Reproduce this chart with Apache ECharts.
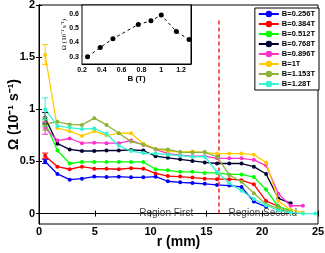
<!DOCTYPE html>
<html><head><meta charset="utf-8">
<script src="https://cdn.jsdelivr.net/npm/echarts@6/dist/echarts.min.js"></script>
<style>html,body{margin:0;padding:0;background:#fff}#c{width:325px;height:253px}</style>
</head><body><div id="c"></div>
<script>
// radial positions (mm)
const radius = [0.55,1.65,2.75,3.85,4.95,6.05,7.15,8.25,9.35,10.45,11.55,12.65,13.75,14.85,15.95,17.05,18.15,19.25,20.35,21.45,22.55,23.65,24.75];
const seriesNames = ['B=0.256T','B=0.384T','B=0.512T','B=0.768T','B=0.896T','B=1T','B=1.153T','B=1.28T'];
const seriesColors = ['#0000ff','#ff0000','#00ff00','#000033','#ff33cc','#ffcc00','#8db33a','#33f5d0'];
const omega0256 = [0.50,0.38,0.325,0.335,0.355,0.35,0.354,0.348,0.348,0.354,0.31,0.30,0.293,0.285,0.275,0.268,0.255,0.115,0.065];
const omega0384 = [0.555,0.45,0.425,0.45,0.43,0.43,0.425,0.435,0.43,0.385,0.36,0.355,0.345,0.335,0.33,0.33,0.32,0.28,0.12,0.07];
const omega0512 = [0.87,0.605,0.48,0.495,0.495,0.495,0.495,0.495,0.495,0.425,0.415,0.40,0.40,0.39,0.39,0.375,0.375,0.35,0.23,0.065,0.03];
const omega0768 = [0.92,0.67,0.615,0.60,0.60,0.605,0.605,0.61,0.605,0.55,0.535,0.52,0.505,0.49,0.48,0.48,0.48,0.45,0.38,0.145,0.10];
const omega0896 = [0.82,0.70,0.72,0.675,0.68,0.675,0.675,0.70,0.66,0.615,0.575,0.56,0.55,0.55,0.53,0.53,0.53,0.515,0.46,0.19,0.075,0.075];
const omega1000 = [1.52,0.82,0.79,0.745,0.79,0.75,0.77,0.77,0.67,0.62,0.60,0.59,0.595,0.585,0.575,0.575,0.575,0.565,0.49,0.12,0.035,0.01];
const omega1153 = [0.86,0.88,0.855,0.85,0.915,0.85,0.77,0.69,0.66,0.62,0.615,0.59,0.585,0.59,0.545,0.37,0.305,0.195,0.09,0.05,0.02];
const omega1280 = [1.00,0.84,0.825,0.81,0.815,0.765,0.65,0.60,0.58,0.575,0.565,0.555,0.545,0.545,0.40,0.29,0.22,0.14,0.08,0.03,0.01,0.0,0.0];
const allOmega = [omega0256,omega0384,omega0512,omega0768,omega0896,omega1000,omega1153,omega1280];
// error bars at first radius: [low, high]
const errLow  = [0.48,0.53,0.84,0.86,0.76,1.43,0.80,0.90];
const errHigh = [0.52,0.58,0.90,0.97,0.88,1.62,0.92,1.11];
// inset data
const insetB = [0.256,0.384,0.512,0.768,0.896,1,1.153,1.28];
const insetOmega = [0.30,0.365,0.425,0.525,0.55,0.59,0.475,0.42];
const mainYTicks = [0,0.5,1,1.5,2];
const insetYTicks = [0.3,0.4,0.5,0.6];
const regionLineR = 16.1;
const regionLineTop = 1.875;
const regionLabels = [['Region First',11.4,0],['Region Second',20.05,0]];

const chart = echarts.init(document.getElementById('c'), null, {renderer:'canvas'});
const bold = {fontFamily:'Liberation Sans, Arial, sans-serif', fontWeight:'bold', color:'#000'};

const lineSeries = allOmega.map((vals,i)=>({
  type:'line', name:seriesNames[i], xAxisIndex:0, yAxisIndex:0,
  data: vals.map((v,j)=>[radius[j],v]),
  symbol:'circle', symbolSize:4, showSymbol:true,
  lineStyle:{color:seriesColors[i], width:1.3},
  itemStyle:{color:seriesColors[i]},
  z:3+i, animation:false
}));

const errData = errLow.map((lo,i)=>[radius[0], lo, errHigh[i], i]);
const errSeries = {
  type:'custom', xAxisIndex:0, yAxisIndex:0, z:20,
  data: errData,
  renderItem:(params, api)=>{
    const x = api.value(0), lo = api.value(1), hi = api.value(2), ci = api.value(3);
    const p1 = api.coord([x, lo]), p2 = api.coord([x, hi]);
    const c = seriesColors[ci], w = 3;
    const st = {stroke:c, lineWidth:1};
    return {type:'group', children:[
      {type:'line', shape:{x1:p1[0],y1:p1[1],x2:p2[0],y2:p2[1]}, style:st},
      {type:'line', shape:{x1:p1[0]-w,y1:p1[1],x2:p1[0]+w,y2:p1[1]}, style:st},
      {type:'line', shape:{x1:p2[0]-w,y1:p2[1],x2:p2[0]+w,y2:p2[1]}, style:st}
    ]};
  },
  markLine:{
    silent:true, symbol:['none','none'], animation:false,
    lineStyle:{color:'#ff2020', type:[4,3], width:1.5},
    label:{show:false},
    data:[[{coord:[regionLineR,0]},{coord:[regionLineR,regionLineTop]}]]
  },
  markPoint:{
    silent:true, symbol:'circle', symbolSize:0, animation:false,
    label:{show:true, position:'inside', fontSize:10, color:'#444', fontFamily:'Liberation Sans, Arial, sans-serif',
      formatter:(p)=>p.name},
    data: regionLabels.map(d=>({name:d[0], coord:[d[1],d[2]]}))
  }
};

const insetSeries = {
  type:'line', xAxisIndex:2, yAxisIndex:2,
  data: insetB.map((b,i)=>[b, insetOmega[i]]),
  symbol:'circle', symbolSize:5,
  lineStyle:{color:'#000', width:1, type:[3,3]},
  itemStyle:{color:'#000'}, z:30, animation:false
};

const tickStyle = {show:true, inside:true, length:3, lineStyle:{color:'#000'}};
const option = {
  animation:false,
  backgroundColor:'#fff',
  grid:[
    {left:39, right:7, top:5, bottom:29, show:true, borderColor:'#000', borderWidth:1, backgroundColor:'#fff', outerBoundsMode:'none', containLabel:false},
    {left:82, top:5, width:109, height:59, show:true, borderColor:'#000', borderWidth:1, backgroundColor:'#fff', z:25, outerBoundsMode:'none', containLabel:false}
  ],
  legend:{
    data:seriesNames, orient:'vertical', right:6, top:8,
    backgroundColor:'#fff', borderColor:'#000', borderWidth:1, padding:[2,4,2,3],
    itemWidth:20, itemHeight:8, itemGap:2,
    textStyle:{fontSize:7.5, fontWeight:'bold', color:'#000', lineHeight:8, fontFamily:'Liberation Sans, Arial, sans-serif', padding:[0,0,0,-2]},
    z:40
  },
  xAxis:[
    {type:'value', gridIndex:0, min:0, max:25, interval:5,
     axisLine:{show:true, lineStyle:{color:'#000'}}, axisTick:tickStyle,
     axisLabel:Object.assign({fontSize:11, margin:2}, bold), splitLine:{show:false},
     name:'r (mm)', nameLocation:'middle', nameGap:11, nameMoveOverlap:false,
     nameTextStyle:Object.assign({fontSize:14}, bold)},
    {type:'value', gridIndex:0, min:0, max:25, interval:5, position:'top',
     axisLine:{show:true, lineStyle:{color:'#000'}}, axisTick:tickStyle,
     axisLabel:{show:false}, splitLine:{show:false}},
    {type:'value', gridIndex:1, min:0.2, max:1.3, interval:0.2,
     axisLine:{show:true, lineStyle:{color:'#000'}}, axisTick:Object.assign({}, tickStyle, {length:2}),
     axisLabel:Object.assign({fontSize:7, margin:3, showMaxLabel:false}, bold), splitLine:{show:false},
     name:'B (T)', nameLocation:'middle', nameGap:11, nameMoveOverlap:false,
     nameTextStyle:Object.assign({fontSize:8}, bold)},
    {type:'value', gridIndex:1, min:0.2, max:1.3, interval:0.2, position:'top',
     axisLine:{show:true, lineStyle:{color:'#000'}}, axisTick:Object.assign({}, tickStyle, {length:2}),
     axisLabel:{show:false}, splitLine:{show:false}}
  ],
  yAxis:[
    {type:'value', gridIndex:0, min:-0.1, max:2,
     axisLine:{show:true, lineStyle:{color:'#000'}},
     axisTick:Object.assign({customValues:mainYTicks}, tickStyle),
     axisLabel:Object.assign({fontSize:11, margin:4, customValues:mainYTicks}, bold), splitLine:{show:false},
     name:'Ω (10⁻¹ s⁻¹)', nameLocation:'middle', nameGap:18, nameRotate:90, nameMoveOverlap:false,
     nameTextStyle:Object.assign({fontSize:14}, bold)},
    {type:'value', gridIndex:0, min:-0.1, max:2, position:'right',
     axisLine:{show:true, lineStyle:{color:'#000'}},
     axisTick:Object.assign({customValues:mainYTicks}, tickStyle),
     axisLabel:{show:false}, splitLine:{show:false}},
    {type:'value', gridIndex:1, min:0.25, max:0.66,
     axisLine:{show:true, lineStyle:{color:'#000'}},
     axisTick:Object.assign({customValues:insetYTicks}, tickStyle, {length:2}),
     axisLabel:Object.assign({fontSize:7, margin:3, customValues:insetYTicks}, bold), splitLine:{show:false},
     name:'Ω (10⁻¹ s⁻¹)', nameLocation:'middle', nameGap:14, nameRotate:90, nameMoveOverlap:false,
     nameTextStyle:{fontSize:7, color:'#000', fontFamily:'Liberation Serif, Times New Roman, serif'}},
    {type:'value', gridIndex:1, min:0.25, max:0.66, position:'right',
     axisLine:{show:true, lineStyle:{color:'#000'}},
     axisTick:Object.assign({customValues:insetYTicks}, tickStyle, {length:2}),
     axisLabel:{show:false}, splitLine:{show:false}}
  ],
  series: lineSeries.concat([errSeries, insetSeries])
};
chart.setOption(option);
</script></body></html>
